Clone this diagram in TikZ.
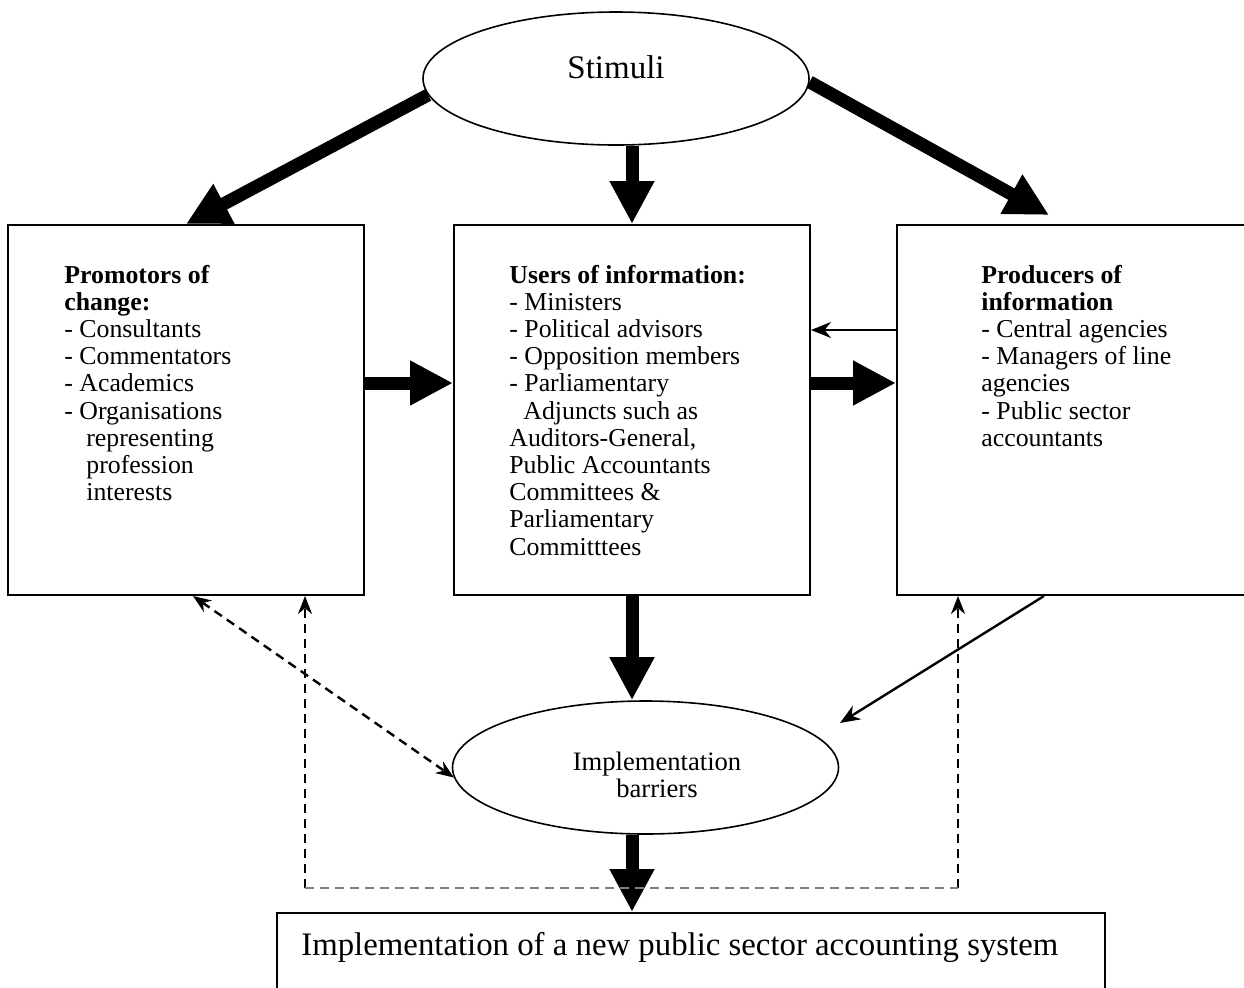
\documentclass[tikz,border=0pt]{standalone}
\usepackage{fontspec}
\setmainfont{Liberation Serif}
\usetikzlibrary{arrows.meta,shapes.geometric,calc}

\tikzset{
  box/.style={draw, line width=1pt, inner sep=0pt},
  oval/.style={draw, ellipse, line width=0.8pt, inner sep=0pt,
    minimum width=193pt, minimum height=66.5pt},
  bigarrow/.style={line width=6.5pt, -{Triangle[length=21.5pt,width=21pt]}},
  thinarrow/.style={line width=1.2pt, -{Stealth[length=10pt,width=8pt]}},
  dsh/.style={line width=1.2pt, dash pattern=on 4.5pt off 3pt},
  dsharrow/.style={dsh, {Stealth[length=9pt,width=7pt]}-{Stealth[length=9pt,width=7pt]}},
  listtext/.style={anchor=north west, align=left, inner sep=0pt,
    font=\fontsize{12.9}{13.6}\selectfont},
}

\begin{document}
\begin{tikzpicture}[x=0.5pt, y=-0.5pt]
  \useasboundingbox (0,0) rectangle (1244,987);
  \clip (0,0) rectangle (1244,987);

  % ovals
  \node[oval] (stim) at (616,78.5) {};
  \node[anchor=base, inner sep=0pt, font=\fontsize{16.5}{18}\selectfont] (stimT) at (616,78) {Stimuli};
  \node[oval] (bar) at (645.5,767.5) {};
  \node[anchor=north, align=center, inner sep=0pt, font=\fontsize{13.3}{13.5}\selectfont] (barT) at (657,752) {Implementation\\barriers};

  % boxes
  \node[box, minimum width=178pt, minimum height=185pt] (pro) at (186,410) {};
  \node[box, minimum width=178pt, minimum height=185pt] (use) at (632,410) {};
  \node[box, minimum width=178pt, minimum height=185pt] (prod) at (1075,410) {};
  \node[box, minimum width=414pt, minimum height=50pt] (sys) at (691,963) {};

  % box contents
  \node[listtext] (proT) at (64,264.5) {\textbf{Promotors of}\\\textbf{change:}\\- Consultants\\- Commentators\\- Academics\\- Organisations\\\hspace*{11pt}representing\\\hspace*{11pt}profession\\\hspace*{11pt}interests};
  \node[listtext] (useT) at (509,264.5) {\textbf{Users of information:}\\- Ministers\\- Political advisors\\- Opposition members\\- Parliamentary\\\hspace*{7pt}Adjuncts such as\\Auditors-General,\\Public Accountants\\Committees \&\\Parliamentary\\Committtees};
  \node[listtext] (prodT) at (981,264.5) {\textbf{Producers of}\\\textbf{information}\\- Central agencies\\- Managers of line\\agencies\\- Public sector\\accountants};
  \node[anchor=base west, inner sep=0pt, font=\fontsize{16.4}{18}\selectfont] (sysT) at (301,955) {Implementation of a new public sector accounting system};

  % free ends
  \coordinate (tipR) at (1049,215);
  \coordinate (tipB) at (840,723);
  \coordinate (loopL) at (305,888);
  \coordinate (loopR) at (958,888);

  % heavy flows
  \draw[bigarrow] (stim.185) -- (pro.north);
  \draw[bigarrow] (stim.-1) -- (tipR);
  \draw[bigarrow] (stim.south -| use.north) -- (use.north);
  \draw[bigarrow] ([yshift=13.5pt]pro.east) -- ([yshift=13.5pt]use.west);
  \draw[bigarrow] ([yshift=13.5pt]use.east) -- ([yshift=13.5pt]prod.west);
  \draw[bigarrow] (use.south) -- (use.south |- bar.north);
  \draw[bigarrow] (bar.south -| use.south) -- (sys.north -| use.south);

  % light flows
  \draw[thinarrow] ([yshift=40pt]prod.west) -- ([yshift=40pt]use.east);
  \draw[thinarrow] ([xshift=74pt]prod.south west) -- (tipB);

  % feedback paths
  \draw[dsharrow] ([xshift=3.5pt]pro.south) -- (bar.183);
  \draw[dsh, -{Stealth[length=9pt,width=7pt]}] (loopL) -- (pro.south -| loopL);
  \draw[dsh, -{Stealth[length=9pt,width=7pt]}] (loopR) -- (prod.south -| loopR);
  \draw[dsh, gray] (loopL) -- (loopR);
\end{tikzpicture}
\end{document}
